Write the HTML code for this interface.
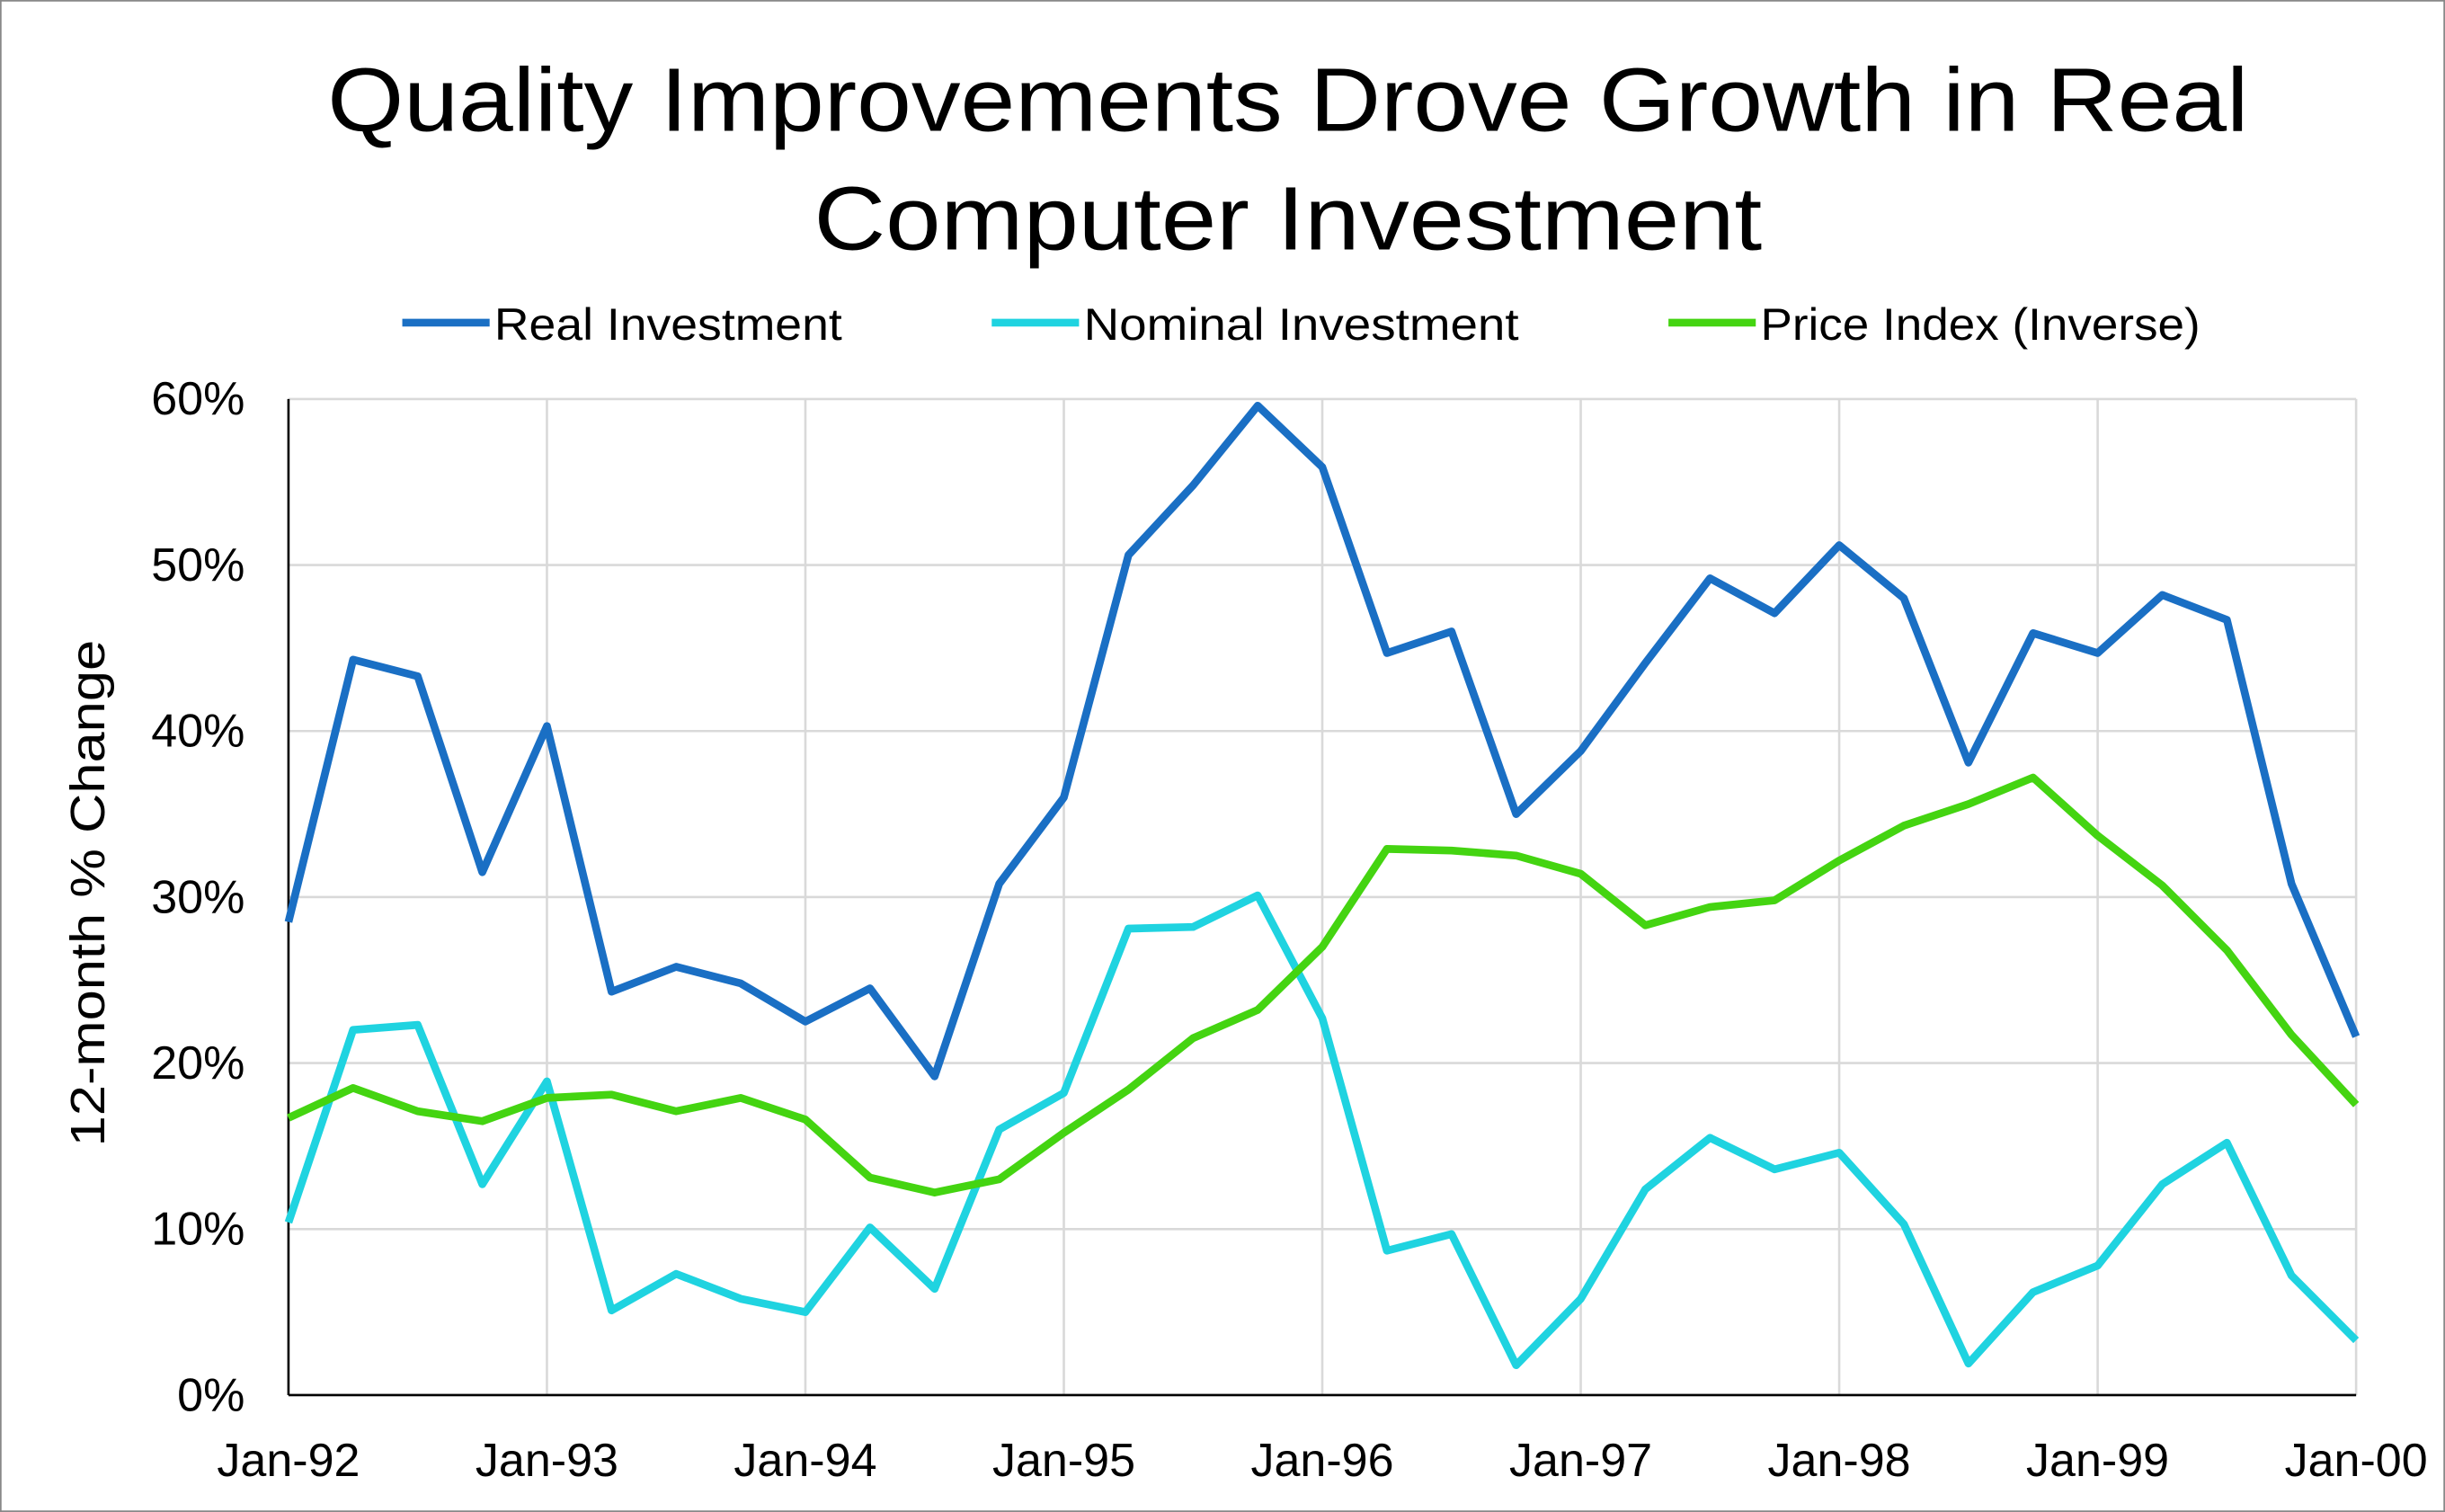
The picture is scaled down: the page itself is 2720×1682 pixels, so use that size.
<!DOCTYPE html>
<html><head><meta charset="utf-8"><style>
html,body{margin:0;padding:0;background:#fff}
svg{display:block}
text{font-family:"Liberation Sans",sans-serif;fill:#000}
</style></head><body>
<svg id="chart" width="2720" height="1682" viewBox="0 0 1568 970" preserveAspectRatio="none" xmlns="http://www.w3.org/2000/svg">
<rect x="0.5" y="0.5" width="1567" height="969" fill="#fff" stroke="#888"/>
<text x="210" y="84" font-size="58" textLength="1232" lengthAdjust="spacingAndGlyphs">Quality Improvements Drove Growth in Real</text>
<text x="522" y="160" font-size="58" textLength="608" lengthAdjust="spacingAndGlyphs">Computer Investment</text>
<g id="legend"></g>
<g id="grid"></g>
<g id="axes"></g>
<g id="series"></g>
<text transform="translate(67,573) rotate(-90)" font-size="31" text-anchor="middle" textLength="325" lengthAdjust="spacingAndGlyphs">12-month % Change</text>
</svg>
<script>
const categories=["Jan-92","Jan-93","Jan-94","Jan-95","Jan-96","Jan-97","Jan-98","Jan-99","Jan-00"];
const yTicks=[0,10,20,30,40,50,60];
const realInvestment=[28.5,44.3,43.3,31.5,40.3,24.3,25.8,24.8,22.5,24.5,19.2,30.8,36,50.6,54.8,59.6,55.9,44.7,46,35,38.8,44.1,49.2,47.1,51.2,48,38.1,45.9,44.7,48.2,46.7,30.8,21.6];
const nominalInvestment=[10.4,22,22.3,12.7,18.9,5.1,7.3,5.8,5,10.1,6.4,16,18.2,28.1,28.2,30.1,22.7,8.7,9.7,1.8,5.8,12.4,15.5,13.6,14.6,10.3,1.9,6.2,7.8,12.7,15.2,7.2,3.3];
const priceIndex=[16.7,18.5,17.1,16.5,17.9,18.1,17.1,17.9,16.6,13.1,12.2,13,15.8,18.4,21.5,23.2,27,32.9,32.8,32.5,31.4,28.3,29.4,29.8,32.2,34.3,35.6,37.2,33.7,30.7,26.8,21.7,17.5];
const NS="http://www.w3.org/2000/svg";
const X0=185,X1=1511,Y0=895,Y1=256;
const x=i=>X0+(X1-X0)*i/32;
const y=v=>Y0-(Y0-Y1)*v/60;
function mk(t,a,p){const e=document.createElementNS(NS,t);for(const k in a)e.setAttribute(k,a[k]);p.appendChild(e);return e;}
const grid=document.getElementById('grid'),axes=document.getElementById('axes'),ser=document.getElementById('series'),leg=document.getElementById('legend');
yTicks.forEach(v=>{
  const l=mk('line',{x1:X0,x2:X1,y1:y(v),y2:y(v),stroke:'#d9d9d9','stroke-width':1.5},grid);
  
  
  const t=mk('text',{x:157,y:y(v)+10,'font-size':30,'text-anchor':'end'},axes);
  t.textContent=v+'%';
  
  
});
categories.forEach((c,i)=>{
  const xx=x(i*4);
  if(i>0){const l=mk('line',{x1:xx,x2:xx,y1:Y1,y2:Y0,stroke:'#d9d9d9','stroke-width':1.5},grid);
  
  }
  const t=mk('text',{x:xx,y:947,'font-size':30,'text-anchor':'middle'},axes);
  t.textContent=c;
  
  
});
const ya=mk('line',{x1:X0,x2:X0,y1:Y1,y2:Y0,stroke:'#000','stroke-width':1.5},axes);


const xa=mk('line',{x1:X0,x2:X1,y1:Y0,y2:Y0,stroke:'#000','stroke-width':1.5},axes);


const S=[["Real Investment",realInvestment,"#1a6fc4","real-investment-line",258,223],["Nominal Investment",nominalInvestment,"#1fd3e0","nominal-investment-line",636,279],["Price Index (Inverse)",priceIndex,"#44d411","price-index-line",1070,282]];
S.forEach(s=>{
  const p=mk('polyline',{points:s[1].map((v,i)=>x(i)+','+y(v)).join(' '),fill:'none',stroke:s[2],'stroke-width':5,'stroke-linejoin':'round'},ser);
  
  
  const g=mk('g',{},leg);
  
  
  mk('line',{x1:s[4],x2:s[4]+56,y1:207,y2:207,stroke:s[2],'stroke-width':5},g);
  const t=mk('text',{x:s[4]+59,y:218,'font-size':29,textLength:s[5],lengthAdjust:'spacingAndGlyphs'},g);
  t.textContent=s[0];
});
</script>
</body></html>
